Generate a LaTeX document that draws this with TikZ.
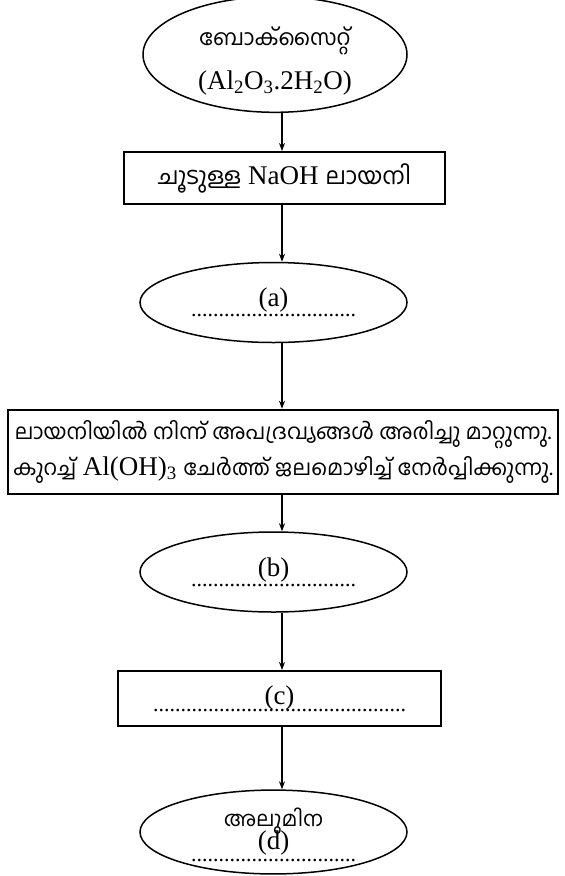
\documentclass[tikz,border=0pt]{standalone}
\usepackage{fontspec}
\setmainfont{Liberation Serif}
\newfontfamily\mal[Script=Malayalam]{Hind Kochi}
\usetikzlibrary{shapes.geometric,arrows.meta}
\newcommand\ml[2][21]{{\mal\fontsize{#1}{40}\selectfont #2}}
\newcommand\dotrow[1]{{\fontsize{22}{40}\selectfont #1}}
\begin{document}
\begin{tikzpicture}[x=1pt,y=-1pt,
  oval/.style={ellipse,draw,line width=1.5pt,inner sep=0pt,align=center,minimum width=267pt},
  stepbox/.style={rectangle,draw,line width=2pt,inner sep=0pt,align=center},
  arr/.style={line width=1.5pt,-{Stealth[length=8pt,width=6pt]}},
  every node/.style={font=\fontsize{27}{40}\selectfont}]
\useasboundingbox (0,0) rectangle (565,876);
\coordinate (ax) at (282,0);
\node[oval,minimum width=264pt,minimum height=105pt] (e1) at (275,54.5)
  {\rule{0pt}{32pt}\ml[22]{ബോക്സൈറ്റ്}\\[4pt](Al\textsubscript{2}O\textsubscript{3}.2H\textsubscript{2}O)};
\node[stepbox,minimum width=321pt,minimum height=52pt] (b1) at (284.5,178)
  {\ml[23.5]{ചൂടുള്ള} NaOH \ml[23.5]{ലായനി}};
\node[oval,minimum height=80pt] (ea) at (273.5,302.5)
  {(a)\\[-30pt]\dotrow{..............................}};
\node[stepbox,minimum width=550pt,minimum height=84pt,line width=2.5pt] (b2) at (283,452)
  {\ml[21.5]{ലായനിയിൽ നിന്ന് അപദ്രവ്യങ്ങൾ അരിച്ചു മാറ്റുന്നു.}\\[-4pt]\ml[21.5]{കുറച്ച്} Al(OH)\textsubscript{3} \ml[21.5]{ചേർത്ത് ജലമൊഴിച്ച് നേർപ്പിക്കുന്നു.}};
\node[oval,minimum height=80pt] (eb) at (273.5,572)
  {(b)\\[-30pt]\dotrow{..............................}};
\node[stepbox,minimum width=323pt,minimum height=55pt] (bc) at (279.5,698.5)
  {(c)\\[-33pt]\dotrow{..............................................}};
\node[oval,minimum height=76pt] (ed) at (273.5,832)
  {\rule{0pt}{24pt}\ml{അലുമിന}\\[-17pt](d)\\[-28pt]\dotrow{..............................}};
\draw[arr] (e1.south -| ax) -- (b1.north -| ax);
\draw[arr] (b1.south -| ax) -- (ea.north -| ax);
\draw[arr] (ea.south -| ax) -- (b2.north -| ax);
\draw[arr] (b2.south -| ax) -- (eb.north -| ax);
\draw[arr] (eb.south -| ax) -- (bc.north -| ax);
\draw[arr] (bc.south -| ax) -- (ed.north -| ax);
\end{tikzpicture}
\end{document}
